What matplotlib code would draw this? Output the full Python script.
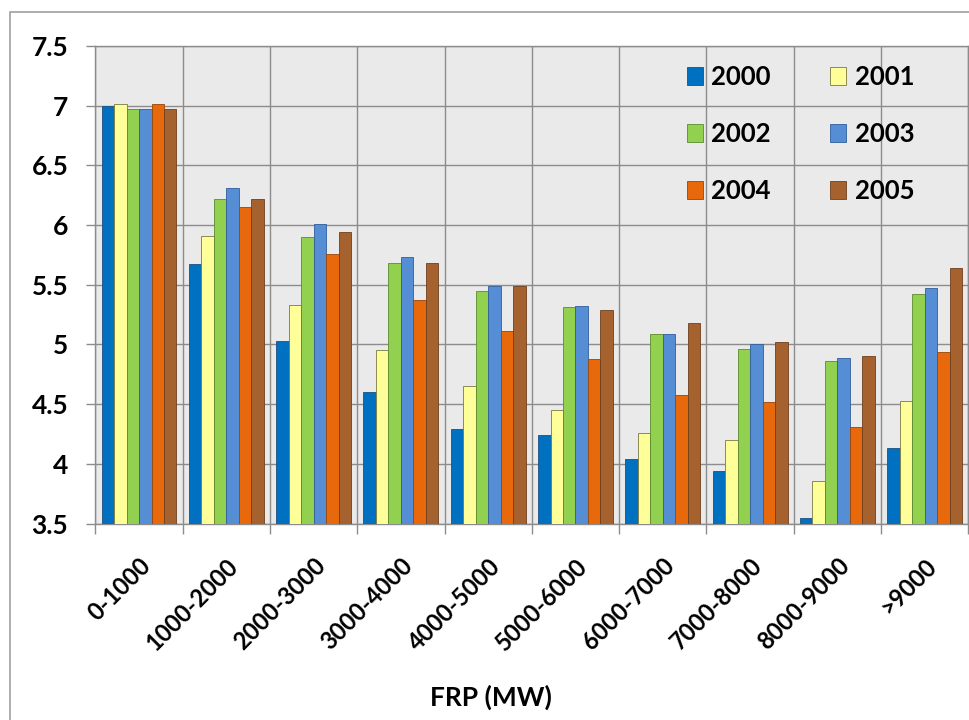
import matplotlib
matplotlib.use("Agg")
import matplotlib.pyplot as plt
import numpy as np
from matplotlib.patches import Rectangle

plt.rcParams['font.family'] = ['Lato', 'DejaVu Sans']

categories = ['0-1000', '1000-2000', '2000-3000', '3000-4000', '4000-5000',
              '5000-6000', '6000-7000', '7000-8000', '8000-9000', '>9000']
years = ['2000', '2001', '2002', '2003', '2004', '2005']
v2000 = [7.00, 5.67, 5.03, 4.60, 4.29, 4.24, 4.04, 3.94, 3.55, 4.13]
v2001 = [7.01, 5.91, 5.33, 4.95, 4.65, 4.45, 4.26, 4.20, 3.86, 4.53]
v2002 = [6.97, 6.22, 5.90, 5.68, 5.45, 5.31, 5.09, 4.96, 4.86, 5.42]
v2003 = [6.97, 6.31, 6.01, 5.73, 5.49, 5.32, 5.09, 5.00, 4.89, 5.47]
v2004 = [7.01, 6.15, 5.76, 5.37, 5.11, 4.88, 4.58, 4.52, 4.31, 4.94]
v2005 = [6.97, 6.22, 5.94, 5.68, 5.49, 5.29, 5.18, 5.02, 4.90, 5.64]
series = [v2000, v2001, v2002, v2003, v2004, v2005]

colors = ['#0070C0', '#FFFF99', '#92D050', '#558ED5', '#E8690B', '#A5612E']
edges = ['#1f4f80', '#7a7a40', '#5d8a30', '#2f5d9a', '#9a4508', '#6e3f1c']

fig = plt.figure(figsize=(9.69, 7.2), dpi=100)
fig.patch.set_facecolor('white')
fig.patches.append(Rectangle((10/969, -0.1), 1.2, 1.1 - 12/720,
                             transform=fig.transFigure, fill=False,
                             edgecolor='#A0A0A0', linewidth=1.2))

ax = fig.add_axes([95.4/969, 1 - 523.5/720, (968.3 - 95.4)/969, (523.5 - 46)/720])
ax.set_facecolor('#EAEAEA')

x = np.arange(len(categories))
bw = 0.143
handles = []
for i, (vals, c, e) in enumerate(zip(series, colors, edges)):
    h = ax.bar(x + (i - 2.5) * bw, [v - 3.5 for v in vals], bw, bottom=3.5,
               color=c, edgecolor=e, linewidth=0.6, zorder=3, label=years[i])
    handles.append(h)

ax.set_xlim(-0.5, len(categories) - 0.5)
ax.set_ylim(3.5, 7.5)
ax.set_yticks(np.arange(3.5, 7.51, 0.5))
ax.set_yticklabels(['3.5', '4', '4.5', '5', '5.5', '6', '6.5', '7', '7.5'])
ax.set_xticks(x)
ax.set_xticklabels(categories)
ax.set_xticks(np.arange(-0.5, len(categories), 1.0), minor=True)

ax.grid(True, which='major', axis='y', color='#8C8C8C', linewidth=1.0, zorder=1)
ax.grid(True, which='minor', axis='x', color='#8C8C8C', linewidth=1.0, zorder=1)
ax.set_axisbelow(True)

ax.tick_params(axis='y', which='major', length=6.5, width=1.0, color='#8C8C8C',
               direction='out', pad=13, labelsize=19)
ax.tick_params(axis='x', which='major', length=0, pad=22, labelsize=17)
ax.tick_params(axis='x', which='minor', length=7.2, width=1.0, color='#8C8C8C',
               direction='out')
for lab in ax.get_yticklabels():
    lab.set_fontweight('bold')
for lab in ax.get_xticklabels():
    lab.set_fontweight('bold')
    lab.set_rotation(45)
    lab.set_ha('right')
    lab.set_va('top')
    lab.set_rotation_mode('anchor')

for s in ax.spines.values():
    s.set_color('#8C8C8C')
    s.set_linewidth(1.0)

order = [0, 2, 4, 1, 3, 5]
leg = ax.legend([handles[i] for i in order], [years[i] for i in order],
                ncol=2, frameon=False, loc='upper left',
                bbox_to_anchor=(686.7/969, 1 - 65/720), bbox_transform=fig.transFigure,
                borderpad=0, borderaxespad=0, handlelength=0.64, handleheight=0.7,
                handletextpad=0.32, columnspacing=2.3, labelspacing=1.28,
                prop={'size': 18.5, 'weight': 'bold'})

fig.text(491/969, 1 - 697/720, 'FRP (MW)', ha='center', va='center',
         fontsize=19, fontweight='bold')

fig.savefig('out.png', dpi=100)
